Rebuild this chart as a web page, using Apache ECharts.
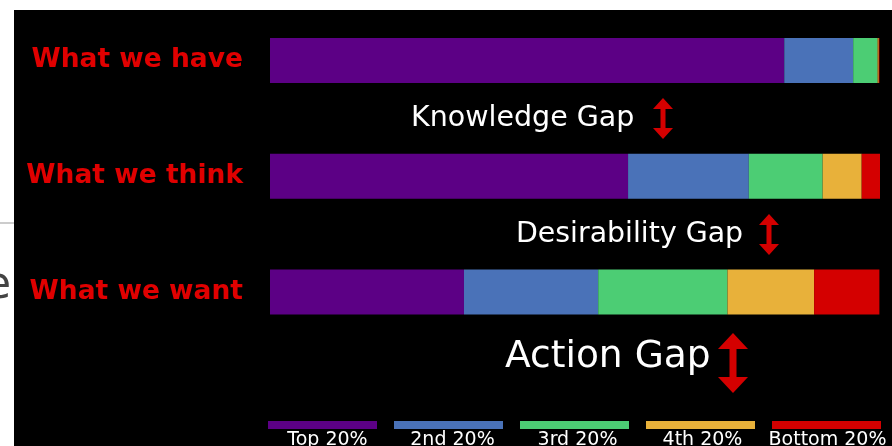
<!DOCTYPE html>
<html>
<head>
<meta charset="utf-8">
<script src="https://cdn.jsdelivr.net/npm/echarts@6/dist/echarts.min.js"></script>
<style>
  html, body { margin: 0; padding: 0; background: #fff; }
  #chart { width: 892px; height: 446px; }
</style>
</head>
<body>
<div id="chart"></div>
<script>
// data (share of wealth, %)
const categories = ['What we have', 'What we think', 'What we want'];
const seriesNames = ['Top 20%', '2nd 20%', '3rd 20%', '4th 20%', 'Bottom 20%'];
const top20 = [84.3, 58.7, 31.8];
const second20 = [11.3, 19.8, 22.0];
const third20 = [4.0, 12.1, 21.2];
const fourth20 = [0.2, 6.4, 14.2];
const bottom20 = [0.1, 3.0, 10.7];
const colors = ['#5c0085', '#4a72b8', '#4ccd74', '#e8b13a', '#d40000'];

const values = [top20, second20, third20, fourth20, bottom20];
const FONT = '"DejaVu Sans", sans-serif';

// double headed red arrow
function arrow(cx, y1, y2, w, h, s) {
  return {
    type: 'polygon',
    shape: {
      points: [
        [cx, y1], [cx + w, y1 + h], [cx + s, y1 + h], [cx + s, y2 - h],
        [cx + w, y2 - h], [cx, y2], [cx - w, y2 - h], [cx - s, y2 - h],
        [cx - s, y1 + h], [cx - w, y1 + h]
      ]
    },
    style: { fill: '#d40000' },
    z: 10
  };
}

function gapText(x, y, text, size) {
  return {
    type: 'text',
    x: x, y: y,
    style: {
      text: text,
      fill: '#fff',
      font: size + 'px ' + FONT,
      textVerticalAlign: 'middle'
    },
    z: 10
  };
}

// colour swatches in one row, names under them (one legend per name)
const legends = [{
  data: seriesNames,
  left: 263,
  top: 416,
  itemWidth: 109,
  itemHeight: 8,
  itemGap: 17,
  icon: 'rect',
  formatter: function () { return ''; },
  selectedMode: false
}];
seriesNames.forEach(function (name, i) {
  legends.push({
    data: [name],
    left: 263 + i * 125,
    top: 426,
    itemWidth: 0,
    itemHeight: 0,
    icon: 'none',
    selectedMode: false,
    formatter: function (n) { return '{t|' + n + '}'; },
    textStyle: {
      color: '#fff',
      rich: {
        t: { color: '#fff', fontSize: 19, fontFamily: FONT, width: 109, align: 'center' }
      }
    }
  });
});

const chart = echarts.init(document.getElementById('chart'));
const option = {
  backgroundColor: '#fff',
  animation: false,
  color: colors,
  graphic: [
    { type: 'rect', shape: { x: 14, y: 10, width: 878, height: 436 }, style: { fill: '#000' }, z: -10 },
    { type: 'line', shape: { x1: 0, y1: 223, x2: 14, y2: 223 }, style: { stroke: '#999', lineWidth: 1 }, z: -10 },
    { type: 'text', x: -16, y: 287, style: { text: 'e', fill: '#444', font: '44px ' + FONT, textVerticalAlign: 'middle' }, z: -11 },
    gapText(411, 119, 'Knowledge Gap', 28.5),
    arrow(663, 98, 139, 10, 11, 2.5),
    gapText(516, 235, 'Desirability Gap', 28.4),
    arrow(769, 214, 255, 10, 11, 2.5),
    gapText(505, 357, 'Action Gap', 37.6),
    arrow(733, 333, 393, 15, 16, 3.5)
  ],
  legend: legends,
  grid: { left: 270, right: 12, top: 2.5, bottom: 96, containLabel: false },
  xAxis: { type: 'value', min: 0, max: 100, show: false },
  yAxis: {
    type: 'category',
    data: categories,
    inverse: true,
    axisLine: { show: false },
    axisTick: { show: false },
    splitLine: { show: false },
    axisLabel: {
      color: '#e00000',
      fontSize: 26.5,
      fontWeight: 'bold',
      fontFamily: FONT,
      margin: 27
    }
  },
  series: seriesNames.map(function (name, i) {
    return {
      name: name,
      type: 'bar',
      stack: 'wealth',
      barWidth: 45,
      data: values[i],
      itemStyle: { color: colors[i] }
    };
  })
};
chart.setOption(option);
</script>
</body>
</html>
